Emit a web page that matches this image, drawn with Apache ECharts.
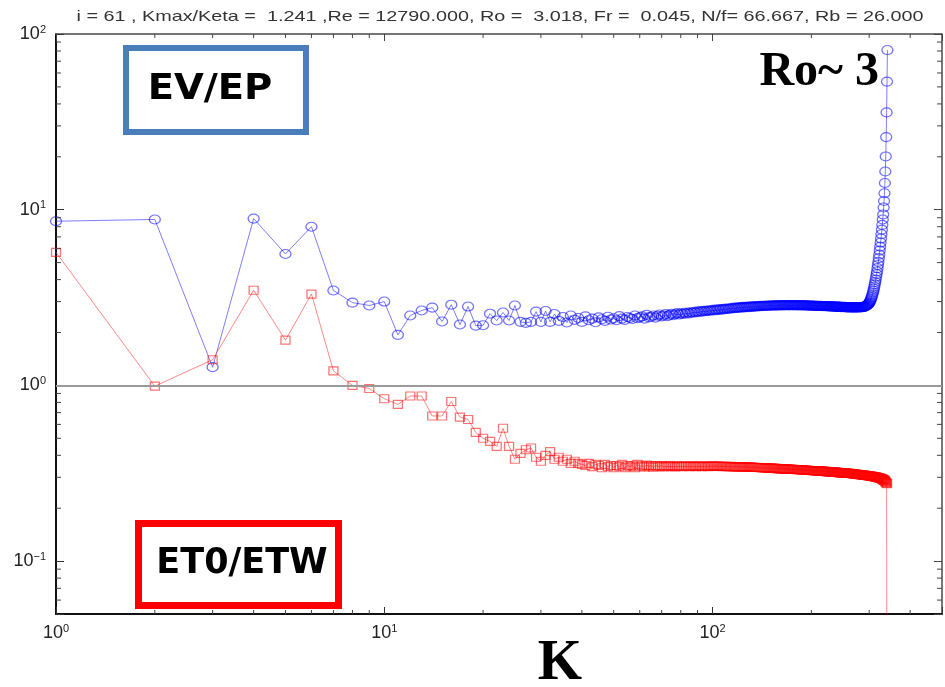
<!DOCTYPE html>
<html>
<head>
<meta charset="utf-8">
<script src="https://cdn.jsdelivr.net/npm/echarts@6/dist/echarts.min.js"></script>
<style>html,body{margin:0;padding:0;background:#fff;}#c{width:945px;height:687px;}</style>
</head>
<body>
<div id="c"></div>
<script>
// ---- data (K = 1 .. 341, one value per integer wavenumber) ----
const titleText = 'i = 61 , Kmax/Keta =  1.241 ,Re = 12790.000, Ro =  3.018, Fr =  0.045, N/f= 66.667, Rb = 26.000';
const evepName = 'EV/EP';
const et0Name = 'ET0/ETW';
const roText = 'Ro~ 3';
const xName = 'K';

const xTickValues = [1, 10, 100];
const yTickValues = [0.1, 1, 10, 100];
const xMinorTicks = [2,3,4,5,6,7,8,9,20,30,40,50,60,70,80,90,200,300,400];
const yMinorTicks = [0.06,0.07,0.08,0.09,0.2,0.3,0.4,0.5,0.6,0.7,0.8,0.9,2,3,4,5,6,7,8,9,20,30,40,50,60,70,80,90];

const evep = [
 8.6, 8.8, 1.27, 8.9, 5.6, 8.0, 3.47, 2.96, 2.85, 3.0,
 1.94, 2.5, 2.67, 2.77, 2.31, 2.88, 2.22, 2.81, 2.19, 2.2,
 2.56, 2.34, 2.6, 2.34, 2.85, 2.3, 2.27, 2.3, 2.63, 2.3,
 2.65, 2.3, 2.55, 2.33, 2.45, 2.28, 2.5, 2.36, 2.42, 2.3,
 2.47, 2.35, 2.4, 2.29, 2.44, 2.38, 2.33, 2.46, 2.37, 2.41,
 2.35, 2.48, 2.4, 2.36, 2.45, 2.42, 2.39, 2.5, 2.41, 2.44,
 2.47, 2.4, 2.52, 2.44, 2.46, 2.5, 2.43, 2.49, 2.53, 2.47,
 2.5, 2.55, 2.48, 2.52, 2.56, 2.51, 2.54, 2.58, 2.53, 2.57,
 2.55, 2.59, 2.56, 2.6, 2.57, 2.61, 2.59, 2.62, 2.6, 2.64,
 2.61, 2.65, 2.63, 2.66, 2.64, 2.67, 2.65, 2.68, 2.66, 2.69,
 2.67, 2.7, 2.68, 2.71, 2.69, 2.72, 2.7, 2.73, 2.71, 2.74,
 2.72, 2.74, 2.73, 2.76, 2.74, 2.77, 2.75, 2.77, 2.76, 2.78,
 2.77, 2.79, 2.77, 2.8, 2.78, 2.8, 2.79, 2.81, 2.79, 2.81,
 2.8, 2.82, 2.8, 2.82, 2.81, 2.83, 2.81, 2.83, 2.82, 2.84,
 2.82, 2.84, 2.83, 2.84, 2.83, 2.85, 2.83, 2.85, 2.84, 2.85,
 2.84, 2.86, 2.84, 2.86, 2.85, 2.86, 2.84, 2.86, 2.85, 2.87,
 2.85, 2.86, 2.85, 2.87, 2.85, 2.86, 2.86, 2.87, 2.85, 2.86,
 2.86, 2.87, 2.85, 2.87, 2.86, 2.86, 2.85, 2.87, 2.86, 2.86,
 2.85, 2.86, 2.86, 2.85, 2.87, 2.85, 2.86, 2.85, 2.86, 2.85,
 2.86, 2.85, 2.85, 2.86, 2.84, 2.85, 2.85, 2.84, 2.85, 2.84,
 2.85, 2.84, 2.84, 2.85, 2.83, 2.84, 2.84, 2.83, 2.84, 2.83,
 2.84, 2.83, 2.83, 2.84, 2.82, 2.83, 2.83, 2.82, 2.83, 2.82,
 2.83, 2.82, 2.82, 2.83, 2.81, 2.82, 2.82, 2.81, 2.82, 2.81,
 2.82, 2.81, 2.81, 2.82, 2.8, 2.81, 2.81, 2.8, 2.81, 2.8,
 2.81, 2.8, 2.8, 2.81, 2.79, 2.8, 2.8, 2.79, 2.8, 2.79,
 2.8, 2.79, 2.79, 2.8, 2.78, 2.79, 2.79, 2.78, 2.79, 2.78,
 2.79, 2.78, 2.78, 2.79, 2.78, 2.78, 2.79, 2.78, 2.78, 2.78,
 2.79, 2.78, 2.78, 2.78, 2.79, 2.78, 2.78, 2.79, 2.78, 2.79,
 2.79, 2.78, 2.79, 2.79, 2.79, 2.8, 2.79, 2.8, 2.8, 2.8,
 2.81, 2.82, 2.83, 2.84, 2.85, 2.86, 2.88, 2.9, 2.92, 2.95,
 2.98, 3.02, 3.06, 3.11, 3.17, 3.23, 3.3, 3.38, 3.46, 3.55,
 3.65, 3.76, 3.88, 4.0, 4.15, 4.3, 4.45, 4.65, 4.85, 5.05,
 5.3, 5.55, 5.85, 6.15, 6.5, 6.85, 7.25, 7.7, 8.2, 8.8,
 9.4, 10.3, 11.2, 12.4, 14.2, 16.5, 20.1, 25.9, 35.8, 53.6, 81
];

const et0etw = [
 5.72, 0.99, 1.4, 3.48, 1.81, 3.31, 1.21, 1.0, 0.96, 0.84,
 0.78, 0.87, 0.87, 0.67, 0.67, 0.81, 0.66, 0.64, 0.54, 0.5,
 0.48, 0.45, 0.57, 0.45, 0.38, 0.41, 0.43, 0.44, 0.39, 0.37,
 0.4, 0.42, 0.38, 0.39, 0.37, 0.38, 0.36, 0.37, 0.36, 0.355,
 0.35, 0.36, 0.345, 0.355, 0.35, 0.34, 0.355, 0.345, 0.35, 0.34,
 0.35, 0.345, 0.355, 0.34, 0.35, 0.345, 0.35, 0.34, 0.355, 0.345,
 0.35, 0.343, 0.352, 0.345, 0.35, 0.342, 0.35, 0.347, 0.345, 0.35,
 0.344, 0.349, 0.346, 0.35, 0.345, 0.348, 0.344, 0.349, 0.346, 0.348,
 0.345, 0.349, 0.346, 0.348, 0.345, 0.348, 0.346, 0.349, 0.345, 0.348,
 0.346, 0.348, 0.345, 0.348, 0.346, 0.347, 0.345, 0.348, 0.346, 0.347,
 0.347, 0.346, 0.347, 0.346, 0.346, 0.347, 0.345, 0.346, 0.346, 0.345,
 0.346, 0.345, 0.345, 0.346, 0.344, 0.345, 0.345, 0.344, 0.345, 0.344,
 0.344, 0.345, 0.343, 0.344, 0.344, 0.343, 0.344, 0.342, 0.343, 0.343,
 0.342, 0.343, 0.342, 0.342, 0.341, 0.342, 0.341, 0.341, 0.34, 0.341,
 0.34, 0.34, 0.339, 0.34, 0.339, 0.339, 0.338, 0.339, 0.338, 0.338,
 0.338, 0.337, 0.338, 0.337, 0.337, 0.336, 0.337, 0.336, 0.336, 0.336,
 0.335, 0.336, 0.335, 0.335, 0.335, 0.334, 0.335, 0.334, 0.334, 0.334,
 0.333, 0.334, 0.333, 0.333, 0.333, 0.332, 0.333, 0.332, 0.332, 0.332,
 0.331, 0.332, 0.331, 0.331, 0.331, 0.33, 0.331, 0.33, 0.33, 0.33,
 0.329, 0.33, 0.329, 0.329, 0.329, 0.328, 0.329, 0.328, 0.328, 0.328,
 0.327, 0.328, 0.327, 0.327, 0.327, 0.326, 0.327, 0.326, 0.326, 0.326,
 0.325, 0.326, 0.325, 0.325, 0.325, 0.324, 0.325, 0.324, 0.324, 0.324,
 0.323, 0.324, 0.323, 0.323, 0.323, 0.322, 0.323, 0.322, 0.322, 0.322,
 0.321, 0.322, 0.321, 0.321, 0.321, 0.32, 0.321, 0.32, 0.32, 0.32,
 0.319, 0.32, 0.319, 0.319, 0.319, 0.318, 0.319, 0.318, 0.318, 0.318,
 0.317, 0.318, 0.317, 0.317, 0.317, 0.316, 0.317, 0.316, 0.316, 0.316,
 0.315, 0.316, 0.315, 0.315, 0.315, 0.314, 0.314, 0.314, 0.313, 0.313,
 0.313, 0.313, 0.312, 0.312, 0.312, 0.312, 0.311, 0.311, 0.311, 0.311,
 0.31, 0.31, 0.31, 0.31, 0.309, 0.309, 0.309, 0.309, 0.308, 0.308,
 0.308, 0.308, 0.307, 0.307, 0.307, 0.307, 0.306, 0.306, 0.306, 0.306,
 0.305, 0.305, 0.305, 0.304, 0.304, 0.304, 0.303, 0.303, 0.303, 0.302,
 0.302, 0.302, 0.301, 0.301, 0.301, 0.3, 0.3, 0.299, 0.299, 0.298,
 0.298, 0.297, 0.297, 0.296, 0.296, 0.295, 0.295, 0.294, 0.293, 0.292,
 0.291, 0.29, 0.289, 0.288, 0.286, 0.284, 0.282, 0.28, 0.278, 0.276, 0.0001
];

// ---- chart ----
const X_MIN = 1, X_MAX = 500, Y_MIN = 0.05, Y_MAX = 100;
const ELLIPSE = 'path://M0,50 A50,50 0 1,1 100,50 A50,50 0 1,1 0,50 Z';

function isTick(v, list) {
  return list.some(t => Math.abs(Math.log10(v) - Math.log10(t)) < 1e-6);
}
function powLabel(v, list) {
  if (!isTick(v, list)) return '';
  const e = Math.round(Math.log10(v));
  return '{b|10}{s|' + (e < 0 ? '\u2212' + (-e) : e) + '}';
}
const richLab = {
  b: { fontFamily: 'Liberation Sans', fontSize: 18, color: '#222' },
  s: { fontFamily: 'Liberation Sans', fontSize: 11, color: '#222', padding: [0, 0, 9, 0] }
};

const chart = echarts.init(document.getElementById('c'), null, { renderer: 'canvas' });

function minorTickSeries(values, isX) {
  return {
    type: 'custom', xAxisIndex: 0, yAxisIndex: 0, silent: true, z: 6,
    data: values.map(v => isX ? [v, 1] : [1, v]),
    renderItem: function (params, api) {
      const st = { stroke: '#444', lineWidth: 1 };
      if (isX) {
        const v = api.value(0);
        const b = api.coord([v, Y_MIN]);
        const t = api.coord([v, Y_MAX]);
        return { type: 'group', children: [
          { type: 'line', shape: { x1: b[0], y1: b[1], x2: b[0], y2: b[1] - 4 }, style: st },
          { type: 'line', shape: { x1: t[0], y1: t[1], x2: t[0], y2: t[1] + 4 }, style: st }
        ]};
      } else {
        const v = api.value(1);
        const l = api.coord([X_MIN, v]);
        const r = api.coord([X_MAX, v]);
        return { type: 'group', children: [
          { type: 'line', shape: { x1: l[0], y1: l[1], x2: l[0] + 5, y2: l[1] }, style: st },
          { type: 'line', shape: { x1: r[0], y1: r[1], x2: r[0] - 5, y2: r[1] }, style: st }
        ]};
      }
    }
  };
}

const option = {
  animation: false,
  backgroundColor: '#fff',
  grid: { left: 56, top: 34, right: 2, bottom: 73, show: true, borderColor: '#555', borderWidth: 1 },
  xAxis: [
    {
      type: 'log', logBase: 10, min: X_MIN, max: X_MAX, position: 'bottom',
      axisLine: { show: true, lineStyle: { color: '#111', width: 2 } },
      axisTick: { show: true, inside: true, length: 7, lineStyle: { color: '#333' } },
      axisLabel: { margin: 9, formatter: v => powLabel(v, xTickValues), rich: richLab },
      splitLine: { show: false }
    },
    {
      type: 'log', logBase: 10, min: X_MIN, max: X_MAX, position: 'top',
      axisLine: { show: true, lineStyle: { color: '#666', width: 1.5 } },
      axisTick: { show: true, inside: true, length: 7, lineStyle: { color: '#444' } },
      axisLabel: { show: false }, splitLine: { show: false }
    }
  ],
  yAxis: [
    {
      type: 'log', logBase: 10, min: Y_MIN, max: Y_MAX, position: 'left',
      axisLine: { show: true, lineStyle: { color: '#111', width: 2 } },
      axisTick: { show: true, inside: true, length: 8, lineStyle: { color: '#333' } },
      axisLabel: { margin: 10, formatter: v => powLabel(v, yTickValues), rich: richLab },
      splitLine: { show: false }
    },
    {
      type: 'log', logBase: 10, min: Y_MIN, max: Y_MAX, position: 'right',
      axisLine: { show: true, lineStyle: { color: '#666', width: 1.5 } },
      axisTick: { show: true, inside: true, length: 8, lineStyle: { color: '#444' } },
      axisLabel: { show: false }, splitLine: { show: false }
    }
  ],
  series: [
    {
      name: evepName, type: 'line', xAxisIndex: 0, yAxisIndex: 0,
      data: evep.map((v, i) => [i + 1, v]),
      symbol: ELLIPSE, symbolSize: [11, 9], showAllSymbol: true,
      lineStyle: { color: 'rgba(40,40,255,0.6)', width: 1 },
      itemStyle: { color: 'rgba(255,255,255,0)', borderColor: 'rgba(0,0,255,0.55)', borderWidth: 1.2 },
      emphasis: { disabled: true },
      markLine: {
        silent: true, symbol: 'none', label: { show: false },
        lineStyle: { color: '#9a9a9a', width: 2, type: 'solid' },
        data: [{ yAxis: 1 }]
      },
      z: 3
    },
    {
      name: et0Name, type: 'line', xAxisIndex: 0, yAxisIndex: 0,
      data: et0etw.map((v, i) => [i + 1, v]),
      symbol: 'rect', symbolSize: [9, 8], showAllSymbol: true,
      lineStyle: { color: 'rgba(255,40,40,0.55)', width: 1 },
      itemStyle: { color: 'rgba(255,255,255,0)', borderColor: 'rgba(255,0,0,0.55)', borderWidth: 1.2 },
      emphasis: { disabled: true },
      z: 4
    },
    minorTickSeries(xMinorTicks, true),
    minorTickSeries(yMinorTicks, false)
  ],
  graphic: [
    { type: 'text', x: 500, y: 17, scaleX: 1.32, silent: true,
      style: { text: titleText, font: '15px "Liberation Sans"', fill: '#333', textAlign: 'center', textVerticalAlign: 'middle' } },
    { type: 'rect', silent: true, shape: { x: 126, y: 48, width: 180, height: 84 },
      style: { fill: 'rgba(0,0,0,0)', stroke: '#4a7ebb', lineWidth: 6 } },
    { type: 'text', x: 210, y: 90, scaleX: 1.1, silent: true,
      style: { text: evepName, font: 'bold 35px "DejaVu Sans"', fill: '#000', textAlign: 'center', textVerticalAlign: 'middle' } },
    { type: 'rect', silent: true, shape: { x: 138.5, y: 523.5, width: 200, height: 82 },
      style: { fill: 'rgba(0,0,0,0)', stroke: '#ff0000', lineWidth: 7 } },
    { type: 'text', x: 242, y: 564, silent: true,
      style: { text: et0Name, font: 'bold 35px "DejaVu Sans"', fill: '#000', textAlign: 'center', textVerticalAlign: 'middle' } },
    { type: 'text', x: 879, y: 73, silent: true,
      style: { text: roText, font: 'bold 48px "Liberation Serif"', fill: '#000', textAlign: 'right', textVerticalAlign: 'middle' } },
    { type: 'text', x: 560, y: 664, silent: true,
      style: { text: xName, font: 'bold 57px "Liberation Serif"', fill: '#000', textAlign: 'center', textVerticalAlign: 'middle' } }
  ]
};
chart.setOption(option);
</script>
</body>
</html>
